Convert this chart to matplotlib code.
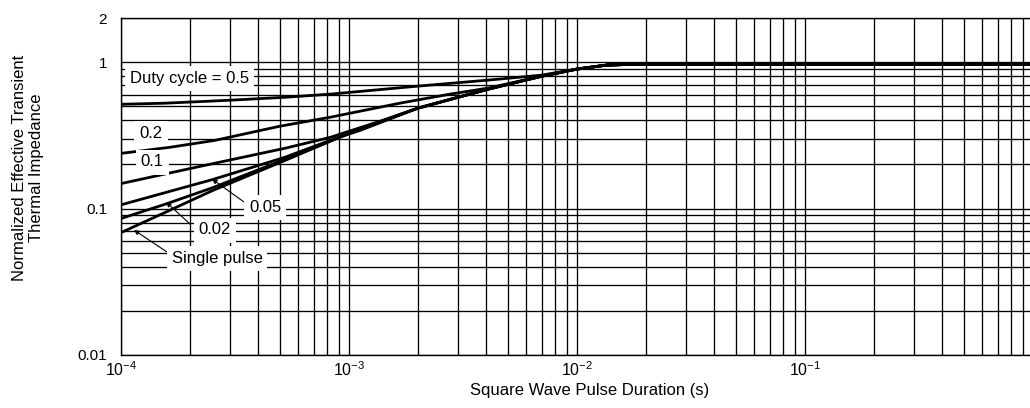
import numpy as np
import matplotlib
matplotlib.use('Agg')
import matplotlib.pyplot as plt
from matplotlib.ticker import FixedLocator, LogLocator, NullFormatter

plt.rcParams['font.family'] = ['Liberation Sans', 'DejaVu Sans']
plt.rcParams['mathtext.fontset'] = 'custom'
plt.rcParams['mathtext.rm'] = 'Liberation Sans'
plt.rcParams['mathtext.it'] = 'Liberation Sans:italic'

# pulse duration (s) and normalized impedance
x_d05 = [1e-4, 1.56e-4, 3.0e-4, 5.24e-4, 8.26e-4, 2.0e-3, 4.07e-3, 7.02e-3, 1e-2, 1.35e-2, 1.89e-2, 1.0]
y_d05 = [0.515, 0.524, 0.549, 0.575, 0.604, 0.685, 0.753, 0.815, 0.896, 0.954, 0.969, 0.969]

x_d02 = [1e-4, 1.64e-4, 2.58e-4, 4.98e-4, 8.26e-4, 1.67e-3, 2.77e-3, 4.07e-3, 7.02e-3, 1e-2, 1.35e-2, 1.89e-2, 1.0]
y_d02 = [0.238, 0.262, 0.292, 0.365, 0.420, 0.524, 0.604, 0.664, 0.802, 0.896, 0.954, 0.969, 0.969]

x_d01 = [1e-4, 2.22e-4, 5.24e-4, 8.26e-4, 1.37e-3, 2.0e-3, 4.07e-3, 7.02e-3, 1e-2, 1.35e-2, 1.89e-2, 1.0]
y_d01 = [0.148, 0.194, 0.258, 0.306, 0.395, 0.484, 0.653, 0.802, 0.896, 0.954, 0.969, 0.969]

x_d005 = [1e-4, 2.53e-4, 5.24e-4, 8.26e-4, 1.12e-3, 2.0e-3, 4.07e-3, 7.02e-3, 1e-2, 1.35e-2, 1.89e-2, 1.0]
y_d005 = [0.106, 0.158, 0.224, 0.292, 0.342, 0.484, 0.653, 0.802, 0.896, 0.954, 0.969, 0.969]

x_d002 = [1e-4, 1.59e-4, 2.53e-4, 5.24e-4, 8.26e-4, 1e-3, 2.0e-3, 4.07e-3, 7.02e-3, 1e-2, 1.35e-2, 1.89e-2, 1.0]
y_d002 = [0.0855, 0.108, 0.139, 0.217, 0.288, 0.327, 0.484, 0.653, 0.802, 0.896, 0.954, 0.969, 0.969]

x_single = [1e-4, 1.59e-4, 2.53e-4, 5.24e-4, 1e-3, 2.0e-3, 4.07e-3, 7.02e-3, 1e-2, 1.35e-2, 1.89e-2, 1.0]
y_single = [0.0685, 0.0953, 0.133, 0.213, 0.327, 0.484, 0.653, 0.802, 0.896, 0.954, 0.969, 0.969]

curves = [(x_d05, y_d05), (x_d02, y_d02), (x_d01, y_d01),
          (x_d005, y_d005), (x_d002, y_d002), (x_single, y_single)]

x_major = [1e-4, 1e-3, 1e-2, 1e-1, 1.0]
x_major_labels = [r'$\mathdefault{10^{-4}}$', r'$\mathdefault{10^{-3}}$',
                  r'$\mathdefault{10^{-2}}$', r'$\mathdefault{10^{-1}}$', '']
y_major = [0.01, 0.1, 1, 2]
y_major_labels = ['0.01', '0.1', '1', '2']
y_minor = [0.02, 0.03, 0.04, 0.05, 0.06, 0.07, 0.08, 0.09,
           0.2, 0.3, 0.4, 0.5, 0.6, 0.7, 0.8, 0.9]

W, H = 1030, 408
fig = plt.figure(figsize=(W/100, H/100), dpi=100)
ax = fig.add_axes([121/W, 1-355/H, 912/W, 337/H])
ax.set_xscale('log')
ax.set_yscale('log')
ax.set_xlim(1e-4, 1)
ax.set_ylim(0.01, 2)

for xs, ys in curves:
    ax.plot(xs, ys, color='black', lw=2.0, solid_capstyle='butt', zorder=2)

ax.xaxis.set_major_locator(FixedLocator(x_major))
ax.set_xticklabels(x_major_labels)
ax.xaxis.set_minor_locator(LogLocator(base=10, subs=range(2, 10), numticks=20))
ax.xaxis.set_minor_formatter(NullFormatter())
ax.yaxis.set_major_locator(FixedLocator(y_major))
ax.set_yticklabels(y_major_labels)
ax.yaxis.set_minor_locator(FixedLocator(y_minor))
ax.yaxis.set_minor_formatter(NullFormatter())
ax.grid(which='both', color='black', lw=0.95)
ax.tick_params(which='both', length=0)
ax.tick_params(axis='y', pad=10, labelsize=11)
ax.tick_params(axis='x', pad=4, labelsize=11.5)
for s in ax.spines.values():
    s.set_linewidth(1.0)

box = dict(facecolor='white', edgecolor='none', boxstyle='square,pad=0.3')
def fx(px):
    return (px-121)/912
def fy(py):
    return (355-py)/337

ax.text(fx(130), fy(78), 'Duty cycle = 0.5', transform=ax.transAxes, fontsize=12,
        ha='left', va='center', bbox=box, zorder=4)
ax.text(fx(151), fy(133), '0.2', transform=ax.transAxes, fontsize=12,
        ha='center', va='center', bbox=box, zorder=4)
ax.text(fx(152), fy(162), '0.1', transform=ax.transAxes, fontsize=12,
        ha='center', va='center', bbox=box, zorder=4)
ax.text(fx(265), fy(207), '0.05', transform=ax.transAxes, fontsize=12,
        ha='center', va='center', bbox=box, zorder=4)
ax.text(fx(215), fy(230), '0.02', transform=ax.transAxes, fontsize=12,
        ha='center', va='center', bbox=box, zorder=4)
ax.text(fx(217), fy(258), 'Single pulse', transform=ax.transAxes, fontsize=12,
        ha='center', va='center', bbox=box, zorder=4)

arrow = dict(arrowstyle='-|>', color='black', lw=0.8, mutation_scale=7, shrinkA=0, shrinkB=0)
ax.annotate('', xy=(fx(212), fy(179)), xytext=(fx(244), fy(202)),
            xycoords='axes fraction', textcoords='axes fraction', arrowprops=arrow)
ax.annotate('', xy=(fx(166), fy(202)), xytext=(fx(190), fy(224)),
            xycoords='axes fraction', textcoords='axes fraction', arrowprops=arrow)
ax.annotate('', xy=(fx(134), fy(230)), xytext=(fx(167), fy(252)),
            xycoords='axes fraction', textcoords='axes fraction', arrowprops=arrow)

fig.text(590/W, 1-391/H, 'Square Wave Pulse Duration (s)', fontsize=12,
         ha='center', va='center')
fig.text(28/W, 1-168/H, 'Normalized Effective Transient\nThermal Impedance', fontsize=12,
         ha='center', va='center', rotation=90, multialignment='center', linespacing=1.15)

fig.savefig('out.png', dpi=100)
